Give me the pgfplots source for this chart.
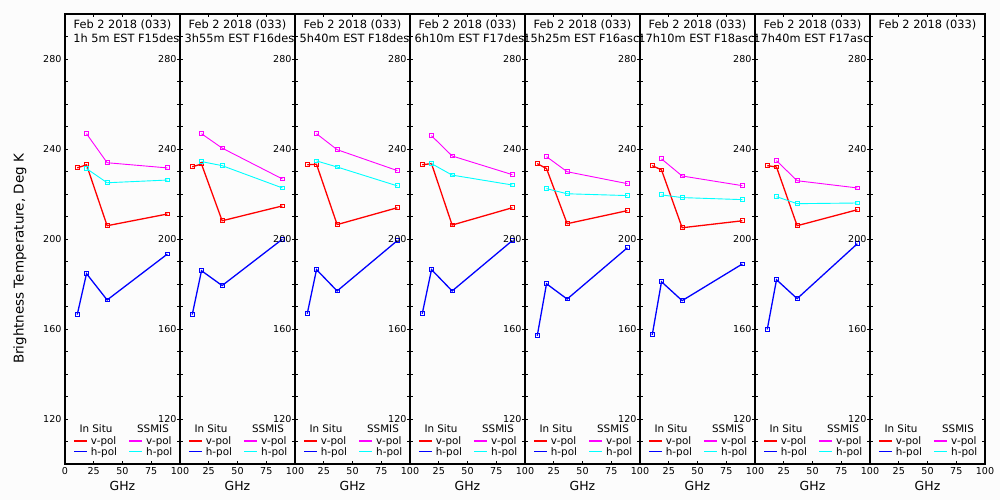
\documentclass[border=0pt]{standalone}
\usepackage{fontspec}
\setmainfont{DejaVu Sans}
\usepackage{pgfplots}
\pgfplotsset{compat=1.18}
\definecolor{bg}{RGB}{252,252,252}
\definecolor{cR}{RGB}{255,0,0}
\definecolor{cB}{RGB}{0,0,255}
\definecolor{cM}{RGB}{255,0,255}
\definecolor{cC}{RGB}{0,255,255}
\newcommand{\tf}{\fontsize{11.4}{13}\selectfont}
\newcommand{\lf}{\fontsize{10.4}{12}\selectfont}
\pgfplotsset{
  panel/.style={
    scale only axis, width=115bp, height=450bp,
    anchor=south west,
    xmin=0, xmax=100, ymin=100, ymax=300,
    xtick={0,25,50,75,100},
    ytick={120,160,200,240,280},
    minor ytick={110,120,...,290},
    tick align=inside,
    major tick length=3bp, minor tick length=3bp,
    every tick/.style={black, line width=0.8bp},
    every minor tick/.style={black, line width=0.8bp},
    axis line style={black, line width=1.2bp},
    ticklabel style={font=\fontsize{9.6}{11}\selectfont},
    /pgf/number format/assume math mode=true,
    clip=false,
  },
  ins/.style={line width=1.3bp, mark=square, mark size=1.9bp, mark options={solid, line width=1bp}},
  sat/.style={line width=0.9bp, mark=square, mark size=1.9bp, mark options={solid, line width=1bp}},
}
\newcommand{\panelextras}[1]{%
  \node[font=\tf, yshift=-10.5bp] at (axis description cs:0.5,1) {Feb 2 2018 (033)};
  \node[font=\tf, anchor=east, inner sep=0pt, yshift=-23.8bp, xshift=-0.5bp] at (axis description cs:1,1) {#1};
  \node[font=\lf] at ([xshift=31bp, yshift=35bp]axis description cs:0,0) {In Situ};
  \node[font=\lf] at ([xshift=88bp, yshift=35bp]axis description cs:0,0) {SSMIS};
  \draw[draw=cR, line width=1.1bp] ([xshift=9bp, yshift=23bp]axis description cs:0,0) -- ([xshift=21.7bp, yshift=23bp]axis description cs:0,0);
  \draw[draw=cB, line width=1.1bp] ([xshift=9bp, yshift=12.3bp]axis description cs:0,0) -- ([xshift=21.7bp, yshift=12.3bp]axis description cs:0,0);
  \draw[draw=cM, line width=1.1bp] ([xshift=64.3bp, yshift=23bp]axis description cs:0,0) -- ([xshift=76.7bp, yshift=23bp]axis description cs:0,0);
  \draw[draw=cC, line width=1.1bp] ([xshift=64.3bp, yshift=12.3bp]axis description cs:0,0) -- ([xshift=76.7bp, yshift=12.3bp]axis description cs:0,0);
  \node[font=\lf, anchor=west, inner sep=0pt] at ([xshift=25.7bp, yshift=22.5bp]axis description cs:0,0) {v-pol};
  \node[font=\lf, anchor=west, inner sep=0pt] at ([xshift=25.7bp, yshift=11.8bp]axis description cs:0,0) {h-pol};
  \node[font=\lf, anchor=west, inner sep=0pt] at ([xshift=81bp, yshift=22.5bp]axis description cs:0,0) {v-pol};
  \node[font=\lf, anchor=west, inner sep=0pt] at ([xshift=81bp, yshift=11.8bp]axis description cs:0,0) {h-pol};
  \node[font=\fontsize{12.5}{14}\selectfont] at ([yshift=-22bp]axis description cs:0.5,0) {GHz};
}
\begin{document}
\begin{tikzpicture}
\fill[bg] (0,0) rectangle (1000bp,500bp);
\path[use as bounding box] (0,0) rectangle (1000bp,500bp);

% Panel 1
\begin{axis}[panel, at={(65bp,36bp)}, xticklabels={0,25,50,75,100}]
\addplot[ins, cR] coordinates {(10.65,231.6) (18.7,233.0) (36.64,205.9) (89,211.1)};
\addplot[ins, cB] coordinates {(10.65,166.4) (18.7,184.6) (36.64,172.9) (89,193.3)};
\addplot[sat, cM] coordinates {(18.7,246.8) (36.64,233.9) (89,231.6)};
\addplot[sat, cC] coordinates {(18.7,231.3) (36.64,225.0) (89,226.2)};
\panelextras{1h 5m EST F15des}
\node[font=\fontsize{13.5}{15}\selectfont, rotate=90, xshift=-20bp] at ([xshift=-45bp]axis description cs:0,0.5) {Brightness Temperature, Deg K};
\end{axis}

% Panel 2
\begin{axis}[panel, at={(180bp,36bp)}, xticklabels={,25,50,75,100}]
\addplot[ins, cR] coordinates {(10.65,232.1) (18.7,233.3) (36.64,208.1) (89,214.7)};
\addplot[ins, cB] coordinates {(10.65,166.4) (18.7,185.9) (36.64,179.3) (89,199.9)};
\addplot[sat, cM] coordinates {(18.7,246.8) (36.64,240.4) (89,226.7)};
\addplot[sat, cC] coordinates {(18.7,234.4) (36.64,232.6) (89,222.7)};
\panelextras{3h55m EST F16des}
\end{axis}

% Panel 3
\begin{axis}[panel, at={(295bp,36bp)}, xticklabels={,25,50,75,100}]
\addplot[ins, cR] coordinates {(10.65,233.0) (18.7,233.2) (36.64,206.4) (89,213.9)};
\addplot[ins, cB] coordinates {(10.65,166.8) (18.7,186.4) (36.64,176.9) (89,199.3)};
\addplot[sat, cM] coordinates {(18.7,246.8) (36.64,239.7) (89,230.4)};
\addplot[sat, cC] coordinates {(18.7,234.7) (36.64,232.0) (89,223.6)};
\panelextras{5h40m EST F18des}
\end{axis}

% Panel 4
\begin{axis}[panel, at={(410bp,36bp)}, xticklabels={,25,50,75,100}]
\addplot[ins, cR] coordinates {(10.65,233.0) (18.7,233.5) (36.64,206.2) (89,213.9)};
\addplot[ins, cB] coordinates {(10.65,166.8) (18.7,186.4) (36.64,176.9) (89,199.3)};
\addplot[sat, cM] coordinates {(18.7,245.9) (36.64,236.9) (89,228.6)};
\addplot[sat, cC] coordinates {(18.7,233.5) (36.64,228.4) (89,224.0)};
\panelextras{6h10m EST F17des}
\end{axis}

% Panel 5
\begin{axis}[panel, at={(525bp,36bp)}, xticklabels={,25,50,75,100}]
\addplot[ins, cR] coordinates {(10.65,233.5) (18.7,231.3) (36.64,206.8) (89,212.6)};
\addplot[ins, cB] coordinates {(10.65,157.0) (18.7,180.1) (36.64,173.3) (89,196.1)};
\addplot[sat, cM] coordinates {(18.7,236.6) (36.64,229.9) (89,224.6)};
\addplot[sat, cC] coordinates {(18.7,222.4) (36.64,220.1) (89,219.3)};
\panelextras{15h25m EST F16asc}
\end{axis}

% Panel 6
\begin{axis}[panel, at={(640bp,36bp)}, xticklabels={,25,50,75,100}]
\addplot[ins, cR] coordinates {(10.65,232.6) (18.7,230.7) (36.64,205.0) (89,208.1)};
\addplot[ins, cB] coordinates {(10.65,157.4) (18.7,181.0) (36.64,172.6) (89,188.9)};
\addplot[sat, cM] coordinates {(18.7,235.6) (36.64,228.0) (89,223.7)};
\addplot[sat, cC] coordinates {(18.7,219.6) (36.64,218.4) (89,217.5)};
\panelextras{17h10m EST F18asc}
\end{axis}

% Panel 7
\begin{axis}[panel, at={(755bp,36bp)}, xticklabels={,25,50,75,100}]
\addplot[ins, cR] coordinates {(10.65,232.6) (18.7,232.0) (36.64,205.9) (89,213.0)};
\addplot[ins, cB] coordinates {(10.65,159.8) (18.7,181.9) (36.64,173.5) (89,197.9)};
\addplot[sat, cM] coordinates {(18.7,234.8) (36.64,225.9) (89,222.7)};
\addplot[sat, cC] coordinates {(18.7,218.8) (36.64,215.7) (89,216.0)};
\panelextras{17h40m EST F17asc}
\end{axis}

% Panel 8
\begin{axis}[panel, at={(870bp,36bp)}, xticklabels={,25,50,75,100}]
\addplot[draw=none, forget plot] coordinates {(50,200)};
\panelextras{}
\end{axis}
\end{tikzpicture}
\end{document}
